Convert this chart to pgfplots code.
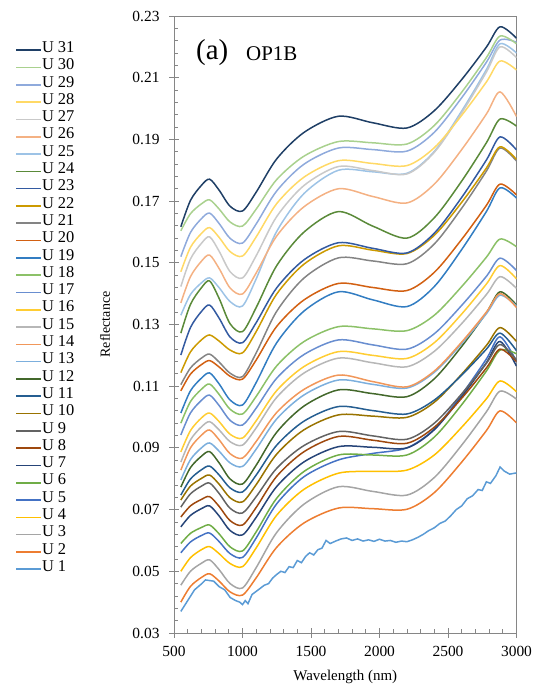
\documentclass[border=0pt]{standalone}
\usepackage{fontspec}
\setmainfont{Liberation Serif}
\usepackage{pgfplots}
\pgfplotsset{compat=1.18}

\definecolor{c1}{HTML}{5B9BD5}
\definecolor{c2}{HTML}{ED7D31}
\definecolor{c3}{HTML}{A5A5A5}
\definecolor{c4}{HTML}{FFC000}
\definecolor{c5}{HTML}{4472C4}
\definecolor{c6}{HTML}{70AD47}
\definecolor{c7}{HTML}{264478}
\definecolor{c8}{HTML}{9E480E}
\definecolor{c9}{HTML}{636363}
\definecolor{c10}{HTML}{997300}
\definecolor{c11}{HTML}{255E91}
\definecolor{c12}{HTML}{43682B}
\definecolor{c13}{HTML}{7CAFDD}
\definecolor{c14}{HTML}{F1975A}
\definecolor{c15}{HTML}{B7B7B7}
\definecolor{c16}{HTML}{FFCD33}
\definecolor{c17}{HTML}{698ED0}
\definecolor{c18}{HTML}{8CC168}
\definecolor{c19}{HTML}{327DC2}
\definecolor{c20}{HTML}{D26012}
\definecolor{c21}{HTML}{848484}
\definecolor{c22}{HTML}{CC9A00}
\definecolor{c23}{HTML}{335AA1}
\definecolor{c24}{HTML}{5A8A39}
\definecolor{c25}{HTML}{9DC3E6}
\definecolor{c26}{HTML}{F4B183}
\definecolor{c27}{HTML}{C9C9C9}
\definecolor{c28}{HTML}{FFD966}
\definecolor{c29}{HTML}{8FAADC}
\definecolor{c30}{HTML}{A9D18E}
\definecolor{c31}{HTML}{1F3F66}
\definecolor{axgray}{HTML}{868686}

\begin{document}
\begin{tikzpicture}
\useasboundingbox (0,0) rectangle (539bp,687bp);
\begin{axis}[
  at={(174bp,54bp)}, anchor=south west,
  scale only axis, width=342.5bp, height=617bp,
  xmin=500, xmax=3000, ymin=0.03, ymax=0.23,
  xtick={500,1000,...,3000},
  ytick={0.03,0.05,...,0.231},
  minor x tick num=4, minor y tick num=4,
  scaled y ticks=false,
  /pgf/number format/assume math mode=true,
  x tick label style={/pgf/number format/1000 sep={}, font=\fontsize{15.5}{17}\selectfont, anchor=north, yshift=-10bp},
  y tick label style={/pgf/number format/.cd, fixed, fixed zerofill, precision=2, /tikz/.cd, font=\fontsize{15.5}{17}\selectfont, anchor=east, xshift=-11bp},
  tick pos=left,
  tick align=inside,
  major tick length=9bp, minor tick length=4bp,
  every major x tick/.append style={yshift=-4.5bp},
  every major y tick/.append style={xshift=-4.5bp},
  tick style={draw=axgray, line width=0.8bp},
  axis line style={draw=axgray, line width=0.9bp},
  xlabel={Wavelength (nm)},
  ylabel={Reflectance},
  xlabel style={at={(axis description cs:0.5,-0.0713)}, anchor=center, font=\fontsize{15}{17}\selectfont},
  ylabel style={at={(axis description cs:-0.2015,0.5)}, anchor=center, font=\fontsize{14}{16}\selectfont},
  every axis plot/.append style={line width=1.5bp},
  reverse legend,
  legend cell align=left,
  legend image code/.code={\draw[#1,line width=1.6bp] (0bp,0bp) -- (25bp,0bp);},
  legend style={at={(axis description cs:-0.4642,0.9588)}, anchor=north west, draw=none, fill=none,
    font=\fontsize{16.5}{18}\selectfont, inner xsep=0pt, inner ysep=0pt, row sep=0pt,
    nodes={inner sep=0.2bp, text height=10.6bp, text depth=6.3bp}},
]
\addplot[c1] coordinates {(550,.0370)(600,.0405)(650,.0440)(700,.0459)(730,.0472)(760,.0470)(790,.0468)(830,.0450)(870,.0440)(910,.0415)(950,.0405)(980,.0400)(1000,.0392)(1020,.0405)(1040,.0395)(1070,.0425)(1100,.0435)(1130,.0445)(1160,.0455)(1190,.0460)(1220,.0478)(1250,.0490)(1280,.0500)(1310,.0496)(1340,.0515)(1370,.0512)(1400,.0535)(1430,.0528)(1460,.0548)(1490,.0560)(1520,.0553)(1550,.0570)(1580,.0575)(1610,.0600)(1640,.0590)(1680,.0598)(1720,.0605)(1760,.0608)(1800,.0600)(1840,.0605)(1880,.0598)(1920,.0602)(1960,.0597)(2000,.0604)(2040,.0598)(2080,.0600)(2120,.0594)(2160,.0598)(2200,.0596)(2240,.0602)(2280,.0610)(2320,.0620)(2360,.0632)(2400,.0641)(2440,.0655)(2480,.0663)(2520,.0680)(2560,.0700)(2600,.0712)(2640,.0735)(2680,.0745)(2720,.0765)(2750,.0762)(2780,.0790)(2810,.0785)(2850,.0810)(2880,.0838)(2910,.0825)(2950,.0815)(3000,.0819)};
\addlegendentry{U 1}
\addplot[c2,smooth] coordinates {(550,.0400)(620,.0451)(700,.0480)(760,.0492)(830,.0468)(910,.0433)(1000,.0423)(1100,.0479)(1250,.0578)(1450,.0657)(1700,.0705)(1950,.0703)(2200,.0701)(2400,.0755)(2600,.0854)(2780,.0956)(2880,.1020)(3000,.0981)};
\addlegendentry{U 2}
\addplot[c3,smooth] coordinates {(550,.0455)(620,.0500)(700,.0526)(760,.0537)(830,.0505)(910,.0460)(1000,.0446)(1100,.0512)(1250,.0626)(1450,.0718)(1700,.0774)(1950,.0759)(2200,.0747)(2400,.0804)(2600,.0909)(2780,.1017)(2880,.1084)(3000,.1058)};
\addlegendentry{U 3}
\addplot[c4,smooth] coordinates {(550,.0500)(620,.0544)(700,.0570)(760,.0580)(830,.0557)(910,.0525)(1000,.0515)(1100,.0576)(1250,.0682)(1450,.0766)(1700,.0818)(1950,.0824)(2200,.0828)(2400,.0877)(2600,.0967)(2780,.1059)(2880,.1117)(3000,.1082)};
\addlegendentry{U 4}
\addplot[c5,smooth] coordinates {(550,.0560)(620,.0595)(700,.0616)(760,.0624)(830,.0596)(910,.0557)(1000,.0545)(1100,.0608)(1250,.0719)(1450,.0807)(1700,.0861)(1950,.0882)(2200,.0900)(2400,.0961)(2600,.1073)(2780,.1188)(2880,.1260)(3000,.1180)};
\addlegendentry{U 5}
\addplot[c6,smooth] coordinates {(550,.0590)(620,.0623)(700,.0642)(760,.0650)(830,.0621)(910,.0579)(1000,.0566)(1100,.0628)(1250,.0737)(1450,.0824)(1700,.0877)(1950,.0877)(2200,.0877)(2400,.0935)(2600,.1040)(2780,.1149)(2880,.1217)(3000,.1205)};
\addlegendentry{U 6}
\addplot[c7,smooth] coordinates {(550,.0644)(620,.0681)(700,.0703)(760,.0712)(830,.0679)(910,.0632)(1000,.0618)(1100,.0675)(1250,.0775)(1450,.0855)(1700,.0904)(1950,.0902)(2200,.0900)(2400,.0959)(2600,.1066)(2780,.1176)(2880,.1245)(3000,.1165)};
\addlegendentry{U 7}
\addplot[c8,smooth] coordinates {(550,.0676)(620,.0712)(700,.0733)(760,.0742)(830,.0710)(910,.0664)(1000,.0650)(1100,.0707)(1250,.0808)(1450,.0888)(1700,.0937)(1950,.0925)(2200,.0915)(2400,.0967)(2600,.1061)(2780,.1159)(2880,.1220)(3000,.1180)};
\addlegendentry{U 8}
\addplot[c9,smooth] coordinates {(550,.0708)(620,.0751)(700,.0776)(760,.0786)(830,.0752)(910,.0704)(1000,.0689)(1100,.0742)(1250,.0834)(1450,.0908)(1700,.0953)(1950,.0939)(2200,.0928)(2400,.0980)(2600,.1075)(2780,.1174)(2880,.1235)(3000,.1185)};
\addlegendentry{U 9}
\addplot[c10,smooth] coordinates {(550,.0731)(620,.0776)(700,.0801)(760,.0812)(830,.0782)(910,.0738)(1000,.0725)(1100,.0781)(1250,.0880)(1450,.0959)(1700,.1007)(1950,.1003)(2200,.0999)(2400,.1048)(2600,.1139)(2780,.1232)(2880,.1290)(3000,.1245)};
\addlegendentry{U 10}
\addplot[c11,smooth] coordinates {(550,.0747)(620,.0799)(700,.0829)(760,.0841)(830,.0812)(910,.0770)(1000,.0757)(1100,.0812)(1250,.0909)(1450,.0987)(1700,.1034)(1950,.1021)(2200,.1010)(2400,.1055)(2600,.1136)(2780,.1220)(2880,.1272)(3000,.1215)};
\addlegendentry{U 11}
\addplot[c12,smooth] coordinates {(550,.0773)(620,.0836)(700,.0873)(760,.0888)(830,.0851)(910,.0799)(1000,.0783)(1100,.0844)(1250,.0951)(1450,.1036)(1700,.1088)(1950,.1076)(2200,.1066)(2400,.1124)(2600,.1229)(2780,.1338)(2880,.1406)(3000,.1363)};
\addlegendentry{U 12}
\addplot[c13,smooth] coordinates {(550,.0796)(620,.0862)(700,.0900)(760,.0916)(830,.0889)(910,.0851)(1000,.0840)(1100,.0896)(1250,.0994)(1450,.1072)(1700,.1120)(1950,.1106)(2200,.1094)(2400,.1145)(2600,.1238)(2780,.1335)(2880,.1395)(3000,.1360)};
\addlegendentry{U 13}
\addplot[c14,smooth] coordinates {(550,.0828)(620,.0900)(700,.0941)(760,.0958)(830,.0926)(910,.0881)(1000,.0867)(1100,.0921)(1250,.1015)(1450,.1090)(1700,.1136)(1950,.1115)(2200,.1098)(2400,.1149)(2600,.1243)(2780,.1340)(2880,.1400)(3000,.1355)};
\addlegendentry{U 14}
\addplot[c15,smooth] coordinates {(550,.0854)(620,.0926)(700,.0968)(760,.0985)(830,.0958)(910,.0920)(1000,.0909)(1100,.0965)(1250,.1064)(1450,.1143)(1700,.1191)(1950,.1176)(2200,.1163)(2400,.1213)(2600,.1303)(2780,.1397)(2880,.1455)(3000,.1417)};
\addlegendentry{U 15}
\addplot[c16,smooth] coordinates {(550,.0887)(620,.0956)(700,.0997)(760,.1013)(830,.0985)(910,.0944)(1000,.0932)(1100,.0988)(1250,.1086)(1450,.1164)(1700,.1212)(1950,.1200)(2200,.1190)(2400,.1241)(2600,.1334)(2780,.1431)(2880,.1491)(3000,.1448)};
\addlegendentry{U 16}
\addplot[c17,smooth] coordinates {(550,.0942)(620,.1013)(700,.1054)(760,.1071)(830,.1037)(910,.0989)(1000,.0974)(1100,.1029)(1250,.1126)(1450,.1203)(1700,.1250)(1950,.1234)(2200,.1220)(2400,.1270)(2600,.1362)(2780,.1456)(2880,.1515)(3000,.1475)};
\addlegendentry{U 17}
\addplot[c18,smooth] coordinates {(550,.0980)(620,.1050)(700,.1090)(760,.1107)(830,.1073)(910,.1025)(1000,.1010)(1100,.1067)(1250,.1166)(1450,.1245)(1700,.1293)(1950,.1286)(2200,.1280)(2400,.1330)(2600,.1423)(2780,.1518)(2880,.1577)(3000,.1552)};
\addlegendentry{U 18}
\addplot[c19,smooth] coordinates {(550,.1013)(620,.1085)(700,.1126)(760,.1143)(830,.1107)(910,.1055)(1000,.1039)(1100,.1112)(1250,.1241)(1450,.1344)(1700,.1406)(1950,.1380)(2200,.1358)(2400,.1423)(2600,.1543)(2780,.1666)(2880,.1743)(3000,.1710)};
\addlegendentry{U 19}
\addplot[c20,smooth] coordinates {(550,.1085)(620,.1139)(700,.1170)(760,.1183)(830,.1162)(910,.1132)(1000,.1123)(1100,.1185)(1250,.1294)(1450,.1380)(1700,.1433)(1950,.1420)(2200,.1410)(2400,.1469)(2600,.1576)(2780,.1686)(2880,.1755)(3000,.1720)};
\addlegendentry{U 20}
\addplot[c21,smooth] coordinates {(550,.1105)(620,.1159)(700,.1191)(760,.1204)(830,.1178)(910,.1142)(1000,.1131)(1100,.1208)(1250,.1343)(1450,.1451)(1700,.1516)(1950,.1506)(2200,.1497)(2400,.1561)(2600,.1677)(2780,.1797)(2880,.1872)(3000,.1830)};
\addlegendentry{U 21}
\addplot[c22,smooth] coordinates {(550,.1144)(620,.1211)(700,.1250)(760,.1266)(830,.1246)(910,.1217)(1000,.1208)(1100,.1277)(1250,.1399)(1450,.1496)(1700,.1555)(1950,.1541)(2200,.1530)(2400,.1589)(2600,.1696)(2780,.1807)(2880,.1876)(3000,.1835)};
\addlegendentry{U 22}
\addplot[c23,smooth] coordinates {(550,.1201)(620,.1290)(700,.1342)(760,.1363)(830,.1320)(910,.1259)(1000,.1241)(1100,.1306)(1250,.1419)(1450,.1510)(1700,.1565)(1950,.1547)(2200,.1532)(2400,.1596)(2600,.1712)(2780,.1833)(2880,.1908)(3000,.1866)};
\addlegendentry{U 23}
\addplot[c24,smooth] coordinates {(550,.1272)(620,.1365)(700,.1419)(760,.1441)(830,.1384)(910,.1302)(1000,.1277)(1100,.1355)(1250,.1491)(1450,.1600)(1700,.1666)(1950,.1619)(2200,.1580)(2400,.1646)(2600,.1765)(2780,.1889)(2880,.1966)(3000,.1943)};
\addlegendentry{U 24}
\addplot[c25,smooth] coordinates {(550,.1330)(620,.1397)(700,.1435)(760,.1451)(830,.1419)(910,.1374)(1000,.1360)(1100,.1448)(1250,.1602)(1450,.1725)(1700,.1800)(1950,.1795)(2200,.1790)(2400,.1861)(2600,.1992)(2780,.2126)(2880,.2210)(3000,.2180)};
\addlegendentry{U 25}
\addplot[c26,smooth] coordinates {(550,.1370)(620,.1455)(700,.1505)(760,.1525)(830,.1481)(910,.1418)(1000,.1399)(1100,.1467)(1250,.1587)(1450,.1682)(1700,.1740)(1950,.1715)(2200,.1694)(2400,.1755)(2600,.1867)(2780,.1982)(2880,.2054)(3000,.1974)};
\addlegendentry{U 26}
\addplot[c27,smooth] coordinates {(550,.1423)(620,.1512)(700,.1563)(760,.1584)(830,.1537)(910,.1471)(1000,.1451)(1100,.1523)(1250,.1650)(1450,.1751)(1700,.1812)(1950,.1799)(2200,.1788)(2400,.1858)(2600,.1986)(2780,.2118)(2880,.2200)(3000,.2165)};
\addlegendentry{U 27}
\addplot[c28,smooth] coordinates {(550,.1471)(620,.1550)(700,.1595)(760,.1614)(830,.1582)(910,.1536)(1000,.1522)(1100,.1584)(1250,.1692)(1450,.1778)(1700,.1831)(1950,.1822)(2200,.1815)(2400,.1873)(2600,.1978)(2780,.2086)(2880,.2154)(3000,.2125)};
\addlegendentry{U 28}
\addplot[c29,smooth] coordinates {(550,.1520)(620,.1598)(700,.1643)(760,.1661)(830,.1627)(910,.1579)(1000,.1564)(1100,.1626)(1250,.1733)(1450,.1820)(1700,.1872)(1950,.1867)(2200,.1862)(2400,.1923)(2600,.2035)(2780,.2150)(2880,.2222)(3000,.2215)};
\addlegendentry{U 29}
\addplot[c30,smooth] coordinates {(550,.1604)(620,.1659)(700,.1691)(760,.1704)(830,.1674)(910,.1632)(1000,.1619)(1100,.1674)(1250,.1770)(1450,.1846)(1700,.1893)(1950,.1889)(2200,.1885)(2400,.1945)(2600,.2053)(2780,.2165)(2880,.2235)(3000,.2210)};
\addlegendentry{U 30}
\addplot[c31,smooth] coordinates {(550,.1617)(620,.1702)(700,.1751)(760,.1771)(830,.1735)(910,.1683)(1000,.1668)(1100,.1729)(1250,.1837)(1450,.1923)(1700,.1975)(1950,.1954)(2200,.1937)(2400,.1993)(2600,.2094)(2780,.2199)(2880,.2265)(3000,.2228)};
\addlegendentry{U 31}
\end{axis}
\node[anchor=base west, inner sep=0pt, font=\fontsize{29}{31}\selectfont] at (196bp,627bp) {(a)};
\node[anchor=base west, inner sep=0pt, font=\fontsize{21}{23}\selectfont] at (246bp,626bp) {OP1B};
\end{tikzpicture}
\end{document}
